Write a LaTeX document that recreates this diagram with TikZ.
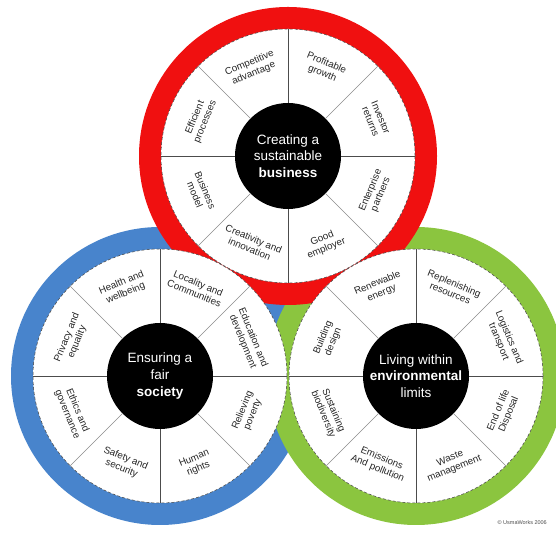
\documentclass[tikz,border=0pt]{standalone}
\usepackage{fontspec}
\setmainfont{Liberation Sans}
\definecolor{ringred}{RGB}{240,16,16}
\definecolor{ringblue}{RGB}{72,132,204}
\definecolor{ringgreen}{RGB}{139,197,63}
\tikzset{
  ring/.style={circle, minimum size=298pt, inner sep=0pt, outer sep=0pt},
  wheel/.style={circle, fill=white, draw=black!75, densely dashed, line width=0.5pt, minimum size=254pt, inner sep=0pt, outer sep=0pt},
  hub/.style={circle, fill=black, minimum size=106pt, inner sep=0pt, outer sep=0pt, text=white, font=\fontsize{13.5}{16.8}\selectfont, align=center},
  seclabel/.style={font=\fontsize{9.8}{11}\selectfont, align=center, inner sep=0pt, text=black!85},
  divmain/.style={draw=black!70, line width=0.6pt, solid},
  divdiag/.style={draw=black!45, line width=0.6pt, solid},
  copyr/.style={font=\fontsize{5.5}{6}\selectfont, text=black!70, inner sep=0pt},
}
\begin{document}
\begin{tikzpicture}[x=1pt,y=1pt]
\useasboundingbox (0,0) rectangle (556,534);
% centres
\coordinate (cr) at (288,378);
\coordinate (cb) at (160,158);
\coordinate (cg) at (416,158);
% coloured rings
\node[ring, fill=ringblue] (bring) at (cb) {};
\node[ring, fill=ringgreen] (gring) at (cg) {};
\node[ring, fill=ringred] (rring) at (cr) {};
% white wheels
\node[wheel] (rw) at (cr) {};
\node[wheel] (bw) at (cb) {};
\node[wheel] (gw) at (cg) {};
% hubs
\node[hub] (rh) at (cr) {Creating a\\sustainable\\\textbf{business}};
\node[hub] (bh) at (cb) {Ensuring a\\fair\\\textbf{society}};
\node[hub] (gh) at (cg) {Living within\\\textbf{environmental}\\limits};
% dividers
\foreach \w in {r,b,g}{
  \foreach \a in {0,90,180,270}{\draw[divmain] (\w h.\a) -- (\w w.\a);}
  \foreach \a in {45,135,225,315}{\draw[divdiag] (\w h.\a) -- (\w w.\a);}
}
% labels
\foreach \a/\t [count=\i] in {112.5/{Competitive\\advantage}, 67.5/{Profitable\\growth}, 22.5/{Investor\\returns}, -22.5/{Enterprise\\partners}, -67.5/{Good\\employer}, -112.5/{Creativity and\\innovation}, -157.5/{Business\\model}, 157.5/{Efficient\\processes}}{
  \pgfmathsetmacro\rot{\a>0 ? \a-90 : \a+90}
  \node[seclabel, rotate=\rot] (rl\i) at ([shift={(\a:95)}]cr) {\t};
}
\foreach \a/\t [count=\i] in {112.5/{Health and\\wellbeing}, 67.5/{Locality and\\Communities}, 22.5/{Education and\\development}, -22.5/{Relieving\\poverty}, -67.5/{Human\\rights}, -112.5/{Safety and\\security}, -157.5/{Ethics and\\governance}, 157.5/{Privacy and\\equality}}{
  \pgfmathsetmacro\rot{\a>0 ? \a-90 : \a+90}
  \node[seclabel, rotate=\rot] (bl\i) at ([shift={(\a:95)}]cb) {\t};
}
\foreach \a/\t [count=\i] in {112.5/{Renewable\\energy}, 67.5/{Replenishing\\resources}, 22.5/{Logistics and\\transport}, -22.5/{End of life\\Disposal}, -67.5/{Waste\\management}, -112.5/{Emissions\\And pollution}, -157.5/{Sustaining\\biodiversity}, 157.5/{Building\\design}}{
  \pgfmathsetmacro\rot{\a>0 ? \a-90 : \a+90}
  \node[seclabel, rotate=\rot] (gl\i) at ([shift={(\a:95)}]cg) {\t};
}
\node[copyr, anchor=south east] (copy) at (547,9) {© UsmaWorks 2006};
\end{tikzpicture}
\end{document}
